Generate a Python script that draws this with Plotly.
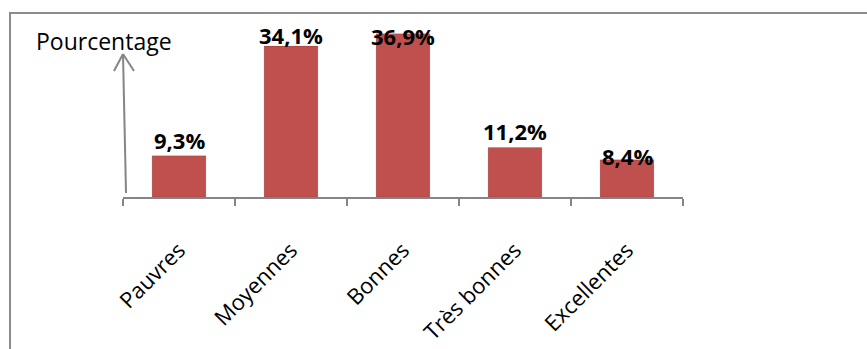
import plotly.graph_objects as go

categories = ["Pauvres", "Moyennes", "Bonnes", "Très bonnes", "Excellentes"]
values = [9.3, 34.1, 36.9, 11.2, 8.4]
value_labels = ["9,3%", "34,1%", "36,9%", "11,2%", "8,4%"]
axis_title = "Pourcentage"

# vertical nudges (px) of each value label relative to its bar top
label_shift = [16, 11, -2, 16, 4]

W, H = 867, 349
L, R, T, B = 123, 184, 20, 152
plot_w = W - L - R
plot_h = H - T - B


def px_x(x):
    return (x - L) / plot_w


def px_y(y):
    return (H - B - y) / plot_h


GRAY = "#858585"
FONT = "Open Sans"

fig = go.Figure(
    go.Bar(
        x=categories,
        y=values,
        width=0.48,
        marker=dict(color="#C0504D", line=dict(color="rgba(0,0,0,0.12)", width=1)),
    )
)

shapes = [
    # outer frame
    dict(type="rect", xref="paper", yref="paper",
         x0=px_x(10), x1=px_x(880), y0=px_y(360), y1=px_y(13),
         line=dict(color="#8c8c8c", width=2), layer="below"),
    # vertical arrow shaft
    dict(type="line", xref="paper", yref="paper",
         x0=px_x(126), y0=px_y(193), x1=px_x(123), y1=px_y(54),
         line=dict(color=GRAY, width=2)),
    # arrow head
    dict(type="line", xref="paper", yref="paper",
         x0=px_x(114), y0=px_y(71), x1=px_x(123), y1=px_y(54),
         line=dict(color=GRAY, width=2)),
    dict(type="line", xref="paper", yref="paper",
         x0=px_x(134), y0=px_y(71), x1=px_x(123), y1=px_y(54),
         line=dict(color=GRAY, width=2)),
]

annotations = [
    dict(text=axis_title, xref="paper", yref="paper",
         x=px_x(104), y=px_y(41), xanchor="center", yanchor="middle",
         showarrow=False, font=dict(family=FONT, size=23, color="#000000")),
]
for cat, val, lab, dy in zip(categories, values, value_labels, label_shift):
    annotations.append(
        dict(text="<b>%s</b>" % lab, x=cat, y=val, xref="x", yref="y",
             xanchor="center", yanchor="middle", yshift=dy, showarrow=False,
             font=dict(family=FONT, size=22, color="#000000"))
    )

fig.update_layout(
    width=W, height=H,
    margin=dict(l=L, r=R, t=T, b=B, autoexpand=False),
    paper_bgcolor="white", plot_bgcolor="white",
    showlegend=False,
    shapes=shapes,
    annotations=annotations,
    xaxis=dict(
        automargin=False,
        showline=True, linecolor=GRAY, linewidth=1.5,
        ticks="outside", ticklen=7, tickcolor=GRAY, tickwidth=1.5,
        tickson="boundaries",
        tickangle=-45, ticklabelstandoff=30,
        tickfont=dict(family=FONT, size=22, color="#000000"),
        showgrid=False, zeroline=False,
    ),
    yaxis=dict(range=[0, 40], visible=False, showgrid=False, zeroline=False,
               automargin=False),
)

fig.write_html("out.html")
